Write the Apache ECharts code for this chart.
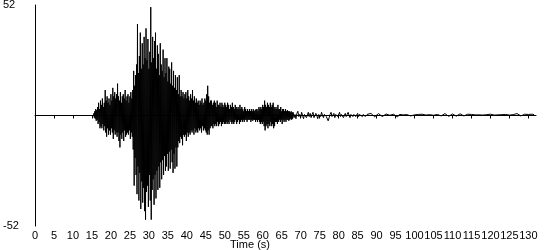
<!DOCTYPE html>
<html><head><meta charset="utf-8">
<script src="https://cdn.jsdelivr.net/npm/echarts@6/dist/echarts.min.js"></script>
<style>html,body{margin:0;padding:0;background:#fff}#c{width:550px;height:250px}</style>
</head><body><div id="c"></div>
<script>
// Quiet part before the onset (time s, value cm/s/s)
const preEvent = [[0, 0], [15.4, 0]];
// Peaks (upper) and troughs (lower) of the strong shaking, every 0.25 s from 15.5 s
const envStart = 15.5;
const envStep = 0.25;
const upper = [
  1,2,3,2.5, 4,6,3,7, 5,8,4,6, 12,7,9,6, 8,5,10,7,
  13,9,11,8, 10,15,9,7, 11,6,9,10, 8,12,7,9, 10,6,9,11,
  8,12,21,14, 19,24,43,20, 28,39,22,34, 24,37,27,41, 26,36,22,30,
  51,25,37,27, 35,39,22,33, 29,19,34,24, 21,31,18,27, 20,27,16,23,
  22,15,25,14, 21,13,19,12, 18,10,19,9, 12,9,11,8, 10,11,8,12,
  9,7,10,8, 12,7,9,6, 8,6,7,5, 7,6,8,5, 6,8,7,10,
  14,9,6,7, 7,5,6,7, 6,4,7,5, 5,6,4,6, 5,4,6,5,
  4,6,5,3, 5,4,6,4, 3,5,4,3, 4,3,5,3, 4,3,2,4,
  3,2,3,2, 3,2,3,2, 3,2,2.5,3, 3,2,4,3, 4,3,5,4,
  7,5,4,6, 5,4,6,4, 5,6,4,3, 4,3,5,3, 3,4,2,3,
  3,2,3,2, 2.5,2,2,1.5, 2,1.5
];
const lower = [
  -1,-1.5,-2.5,-2, -4,-3,-6,-5, -6,-4,-7,-5, -8,-10,-6,-9, -7,-9,-6,-8,
  -11,-7,-9,-8, -10,-8,-12,-15, -9,-11,-8,-12, -7,-10,-9,-8, -9,-7,-11,-8,
  -10,-16,-33,-20, -28,-37,-24,-40, -27,-44,-31,-41, -34,-45,-49,-36, -33,-43,-28,-40,
  -49,-35,-30,-42, -28,-39,-26,-35, -24,-34,-22,-30, -21,-28,-19,-26, -24,-18,-26,-17,
  -25,-16,-22,-27, -18,-25,-15,-24, -15,-12,-13,-10, -11,-14,-9,-10, -9,-12,-8,-10,
  -8,-9,-7,-8, -7,-9,-6,-8, -7,-8,-6,-7, -6,-8,-5,-7, -6,-7,-8,-9,
  -7,-9,-6,-5, -5,-6,-4,-5, -4,-5,-3,-5, -4,-3,-5,-4, -3,-4,-4,-3,
  -4,-3,-4,-2, -3,-4,-3,-4, -3,-2,-4,-3, -2,-4,-3,-2, -3,-2,-3,-2,
  -2,-3,-2,-2, -2,-3,-2,-2.5, -2,-2,-3,-2, -3,-2,-3,-4, -3,-4,-3,-5,
  -7,-5,-4,-6, -4,-5,-3,-5, -4,-6,-5,-3, -3,-4,-3,-2, -3,-2,-4,-2,
  -3,-2,-3,-2, -2,-2.5,-2,-1.5, -2,-1.5
];
// Coda, every 0.25 s from 68 s to 87.75 s
const codaStart = 68;
const codaStep = 0.25;
const coda = [
  1.5,-1,0.5,-1.5,1,2,-0.5,0.5,-1,1.5,0,-1.5,0.5,1,-1,0,
  1.5,-0.5,1,-1,0.5,1.5,-1,-0.5,1,0,-1.5,0.5,1,-0.5,1.5,0,
  -1,0.5,1,-0.5,0,-2.5,-1,0.5,1.5,-0.5,0,1,-1,0.5,1,-0.5,
  0,1.5,-0.5,0.5,1,-1,0,1,-0.5,0.5,1.5,0,-1,0.5,1,-0.5,
  0.5,1,-0.5,0,1,-0.5,0.5,1,0,-0.5,0.5,1,-0.5,0,0.5,0.5
];
// Tail, every 0.5 s from 88 s
const tailStart = 88;
const tailStep = 0.5;
const tail = [
  0.5,1.0,0.2,-0.6,0.3,0.9,0.4,-0.5,-0.2,0.7,1.3,0.1,-0.4,0.6,0.2,-0.7,0.5,1.0,0.3,-0.3,0.4,0.9,-0.2,-0.6,
  0.3,0.8,0.5,-0.1,0.6,1.2,0.2,-0.5,0.4,0.7,0.1,-0.3,0.5,0.6,-0.2,0.3,0.9,0.4,-0.4,0.2,0.7,0.3,-0.3,0.5,
  0.8,0.2,-0.2,0.4,0.6,0.1,0.5,1.0,0.3,-0.3,0.3,0.7,0.2,0.5,0.4,-0.1,0.6,0.9,0.2,-0.4,0.3,0.6,0.4,0.1,
  0.5,0.7,0.2,-0.3,0.4,1.1,0.9,0.3,-0.2,0.4,0.6,0.2,0.5,0.3,0.6,0.4
];
const yTickLabels = ['-52', '52'];
const xTickStep = 5;

const data = preEvent.slice();
for (let i = 0; i < upper.length; i++) {
  const t = envStart + i * envStep;
  data.push([t, upper[i]]);
  data.push([t + envStep / 2, lower[i]]);
}
for (let i = 0; i < coda.length; i++) data.push([codaStart + i * codaStep, coda[i]]);
for (let i = 0; i < tail.length; i++) data.push([tailStart + i * tailStep, tail[i]]);

const FONT = '"Liberation Sans", Arial, sans-serif';
const chart = echarts.init(document.getElementById('c'), null, {renderer: 'canvas'});
chart.setOption({
  animation: false,
  backgroundColor: '#fff',
  grid: {left: 35, right: 14, top: 5, bottom: 24, containLabel: false, outerBoundsMode: 'none'},
  xAxis: {
    type: 'value', min: 0, max: 132, interval: xTickStep,
    axisLine: {lineStyle: {color: '#000', width: 1}},
    axisTick: {show: true, length: 3, lineStyle: {color: '#000'}},
    splitLine: {show: false},
    axisLabel: {
      color: '#000', fontSize: 11, fontFamily: FONT, margin: 4,
      showMaxLabel: false,
      formatter: v => (v % xTickStep === 0 ? String(v) : '')
    }
  },
  yAxis: {
    type: 'value', min: -52, max: 52, interval: 52,
    name: 'cm/s/s', nameLocation: 'middle', nameGap: 22,
    nameTextStyle: {color: '#000', fontSize: 11, fontFamily: FONT},
    axisLine: {show: true, lineStyle: {color: '#000', width: 1}},
    axisTick: {show: false},
    splitLine: {show: false},
    axisLabel: {
      color: '#000', fontSize: 11, fontFamily: FONT, align: 'left', margin: 32,
      formatter: v => (yTickLabels.indexOf(String(v)) >= 0 ? String(v) : '')
    }
  },
  graphic: [{
    type: 'text', x: 250, y: 245,
    style: {text: 'Time (s)', fill: '#000', font: '11px ' + FONT, align: 'center', verticalAlign: 'middle'}
  }],
  series: [{
    type: 'line', data: data, showSymbol: false, sampling: null,
    lineStyle: {color: '#000', width: 1}, z: 3
  }]
});
</script></body></html>
